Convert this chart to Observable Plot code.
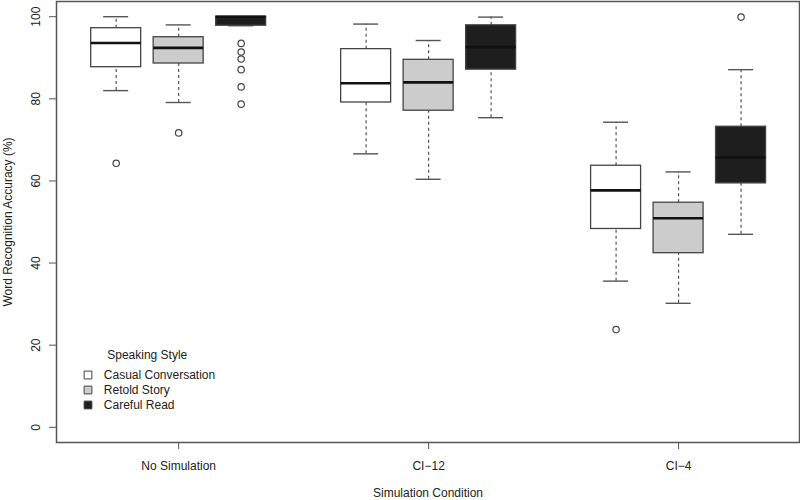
<!DOCTYPE html>
<html>
<head>
<meta charset="utf-8">
<script src="https://cdn.jsdelivr.net/npm/d3@7"></script>
<script src="https://cdn.jsdelivr.net/npm/@observablehq/plot@0.6"></script>
<style>
  html, body { margin: 0; padding: 0; background: #fff; }
  #chart { width: 800px; height: 500px; }
</style>
</head>
<body>
<div id="chart"></div>
<script>
// ---- data ----
const conditions = ["No Simulation", "CI\u221212", "CI\u22124"];
const styles = ["Casual Conversation", "Retold Story", "Careful Read"];
const styleFills = ["#ffffff", "#cccccc", "#1e1e1e"];

// order: condition-major, style-minor
const whiskerLow  = [82.0, 79.1, 97.8, 66.6, 60.4, 75.4, 35.6, 30.2, 47.0];
const quartile1   = [87.7, 88.6, 97.8, 79.1, 77.1, 87.1, 48.3, 42.4, 59.4];
const medians     = [93.6, 92.4, 100.0, 83.8, 84.0, 92.6, 57.7, 50.9, 65.7];
const quartile3   = [97.2, 95.0, 100.0, 92.1, 89.5, 97.9, 63.7, 54.7, 73.2];
const whiskerHigh = [100.0, 98.0, 100.0, 98.2, 94.2, 99.9, 74.3, 62.2, 87.1];

const outlierCondition = [0, 0, 0, 0, 0, 0, 0, 0, 2, 2];
const outlierStyle     = [0, 1, 2, 2, 2, 2, 2, 2, 0, 2];
const outlierValue     = [64.3, 71.7, 93.5, 91.4, 89.7, 87.1, 82.9, 78.7, 23.8, 99.9];

const yTicks = [0, 20, 40, 60, 80, 100];

// ---- build tables ----
const boxes = conditions.flatMap((c, ci) => styles.map((s, si) => {
  const k = ci * 3 + si;
  return {
    condition: c, style: s, si,
    pos: ci * 4 + si + 1,
    lo: whiskerLow[k], q1: quartile1[k], med: medians[k], q3: quartile3[k], hi: whiskerHigh[k]
  };
}));
const outliers = outlierValue.map((v, i) => ({
  pos: outlierCondition[i] * 4 + outlierStyle[i] + 1,
  value: v
}));

const halfBox = 0.4, halfCap = 0.2;
const textColor = "#222";
const lineColor = "#555";

const legendRows = [-67.5, -52.5, -37.5];

const plot = Plot.plot({
  width: 800,
  height: 500,
  marginLeft: 56,
  marginRight: 1,
  marginTop: 1,
  marginBottom: 58,
  style: { fontFamily: "'Liberation Sans', Arial, Helvetica, sans-serif", fontSize: "12px", background: "#fff", overflow: "visible" },
  x: { type: "linear", domain: [0.045, 11.935] },
  y: { domain: [-3.7, 103.7] },
  marks: [
    // whiskers (dashed)
    Plot.ruleX(boxes, { x: "pos", y1: "q3", y2: "hi", stroke: "#555", strokeWidth: 1.2, strokeDasharray: "3,3" }),
    Plot.ruleX(boxes, { x: "pos", y1: "lo", y2: "q1", stroke: "#555", strokeWidth: 1.2, strokeDasharray: "3,3" }),
    // caps
    Plot.ruleY(boxes, { y: "hi", x1: d => d.pos - halfCap, x2: d => d.pos + halfCap, stroke: "#555", strokeWidth: 1.4 }),
    Plot.ruleY(boxes, { y: "lo", x1: d => d.pos - halfCap, x2: d => d.pos + halfCap, stroke: "#555", strokeWidth: 1.4 }),
    // boxes
    Plot.rect(boxes, { x1: d => d.pos - halfBox, x2: d => d.pos + halfBox, y1: "q1", y2: "q3",
      fill: d => styleFills[d.si], stroke: "#444", strokeWidth: 1.3 }),
    // medians
    Plot.ruleY(boxes, { y: "med", x1: d => d.pos - halfBox, x2: d => d.pos + halfBox, stroke: "#111", strokeWidth: 2.6 }),
    // outliers
    Plot.dot(outliers, { x: "pos", y: "value", r: 3.2, fill: "#fff", stroke: "#444", strokeWidth: 1.2 }),
    // frame
    Plot.frame({ stroke: lineColor, strokeWidth: 1.5 }),
    // axes
    Plot.axisY({ ticks: yTicks, tickSize: 7, tickRotate: -90, tickPadding: 9.5, label: null, fontSize: 12, color: textColor, stroke: lineColor }),
    Plot.axisX({ ticks: [2, 6, 10], tickFormat: d => conditions[Math.round((d - 2) / 4)], tickSize: 7, tickPadding: 12, label: null, fontSize: 12, color: textColor, stroke: lineColor }),
    // axis titles
    Plot.text(["Word Recognition Accuracy (%)"], { frameAnchor: "left", dx: -48, rotate: -90, textAnchor: "middle", lineAnchor: "middle", fontSize: 12, fill: textColor }),
    Plot.text(["Simulation Condition"], { frameAnchor: "bottom", dy: 51, textAnchor: "middle", lineAnchor: "middle", fontSize: 12, fill: textColor }),
    // legend
    Plot.text(["Speaking Style"], { frameAnchor: "bottom-left", dx: 50.7, dy: -87, textAnchor: "start", lineAnchor: "middle", fontSize: 12, fill: textColor }),
    ...styles.map((s, i) => Plot.dot([s], { frameAnchor: "bottom-left", dx: 31.5, dy: legendRows[i], symbol: "square", r: 4.4, fill: styleFills[i], stroke: "#444", strokeWidth: 1 })),
    ...styles.map((s, i) => Plot.text([s], { frameAnchor: "bottom-left", dx: 47.3, dy: legendRows[i], textAnchor: "start", lineAnchor: "middle", fontSize: 12, fill: textColor }))
  ]
});
document.getElementById("chart").appendChild(plot);
</script>
</body>
</html>
